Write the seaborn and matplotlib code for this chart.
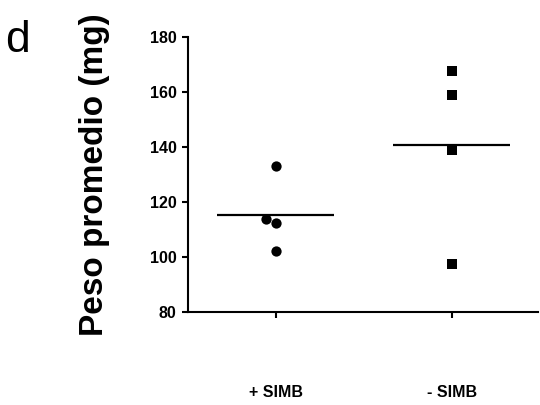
import matplotlib
matplotlib.use("Agg")
import matplotlib.pyplot as plt
import seaborn as sns
import pandas as pd

# Average weight per group (mg)
groups = ["+ SIMB", "- SIMB"]
plus_simb = [133.2, 113.9, 112.3, 102.4]
minus_simb = [167.7, 158.8, 138.9, 97.5]
y_ticks = [80, 100, 120, 140, 160, 180]

df = pd.DataFrame({
    "grupo": [groups[0]] * len(plus_simb) + [groups[1]] * len(minus_simb),
    "peso": plus_simb + minus_simb,
})

sns.set_theme(style="ticks")
plt.rcParams["font.family"] = ["Liberation Sans", "DejaVu Sans"]
plt.rcParams["text.color"] = "black"
plt.rcParams["axes.labelcolor"] = "black"

fig = plt.figure(figsize=(5.4, 4.05), dpi=100)
ax = fig.add_axes([0.3476, 0.229, 0.6484, 0.6804])

markers = ["o", "s"]
for g, m in zip(groups, markers):
    sns.swarmplot(data=df[df["grupo"] == g], x="grupo", y="peso", order=groups,
                  marker=m, color="black", size=7.4, linewidth=0, ax=ax)

# group means as horizontal bars
means = df.groupby("grupo", sort=False)["peso"].mean()
for i, g in enumerate(groups):
    ax.hlines(means[g], i - 0.333, i + 0.333, color="black", linewidth=1.6)

ax.set_xlim(-0.5, 1.49)
ax.set_ylim(80, 180)
ax.set_yticks(y_ticks)
ax.set_xlabel("")
ax.set_ylabel("Peso promedio (mg)", fontsize=24, fontweight="bold", color="black")
ax.yaxis.set_label_coords(-0.222, 0.5)

for s in ["top", "right"]:
    ax.spines[s].set_visible(False)
for s in ["left", "bottom"]:
    ax.spines[s].set_linewidth(1.5)
    ax.spines[s].set_color("black")

ax.tick_params(axis="both", colors="black", width=1.5, length=4.5, labelsize=11.5)
ax.tick_params(axis="x", pad=48)
for lab in ax.get_xticklabels() + ax.get_yticklabels():
    lab.set_fontweight("bold")

fig.text(5 / 540, 1 - 40 / 405, "d", fontsize=32, va="center", ha="left", color="black")

fig.savefig("out.png", dpi=100)
